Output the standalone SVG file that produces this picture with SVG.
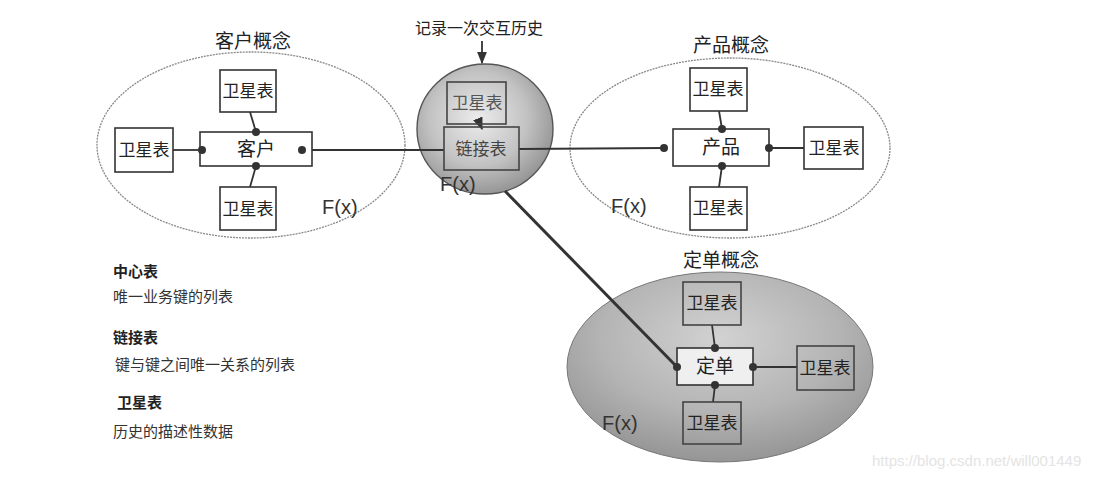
<svg xmlns="http://www.w3.org/2000/svg" width="1103" height="478" viewBox="0 0 1103 478">
<style>
.t{font-family:"Liberation Serif","Noto Sans CJK SC",serif;fill:#222;text-anchor:middle}
.box{font-size:17px}
.title{font-size:19px}
.fx{font-family:"Liberation Sans","DejaVu Sans",sans-serif;font-size:20px;fill:#333}
.leg{font-family:"Noto Sans CJK SC",sans-serif;font-size:15px;fill:#333}
.legh{font-family:"Noto Sans CJK SC",sans-serif;font-size:15px;font-weight:bold;fill:#222}
.rect{fill:#fff;stroke:#333;stroke-width:1.6}
.rectg{fill:none;stroke:#444;stroke-width:1.6}
.ell{fill:#fff;stroke:#888;stroke-width:1.3;stroke-dasharray:2 1}
.ln{stroke:#333;stroke-width:1.8;fill:none}
.dot{fill:#333}
</style>
<defs>
<radialGradient id="gMid" cx="0.45" cy="0.42" r="0.6">
<stop offset="0" stop-color="#ececec"/>
<stop offset="0.6" stop-color="#c2c2c2"/>
<stop offset="1" stop-color="#939393"/>
</radialGradient>
<radialGradient id="gOrd" cx="0.5" cy="0.35" r="0.65">
<stop offset="0" stop-color="#d2d2d2"/>
<stop offset="0.6" stop-color="#b4b4b4"/>
<stop offset="1" stop-color="#959595"/>
</radialGradient>
<marker id="arr" viewBox="0 0 10 10" refX="9" refY="5" markerWidth="7" markerHeight="7" orient="auto">
<path d="M0,1 L10,5 L0,9 z" fill="#333"/>
</marker>
</defs>
<rect width="1103" height="478" fill="#fff"/>

<g id="customer-concept">
<ellipse class="ell" cx="251" cy="145" rx="154" ry="93"/>
<text class="t title" x="253" y="48">客户概念</text>
<text class="fx" x="322" y="214">F(x)</text>
</g>
<g id="product-concept">
<ellipse class="ell" cx="730" cy="148" rx="160" ry="90"/>
<text class="t title" x="731" y="52">产品概念</text>
<text class="fx" x="611" y="213">F(x)</text>
</g>
<g id="order-concept">
<ellipse cx="720" cy="367" rx="153" ry="95" fill="url(#gOrd)" stroke="#777" stroke-width="1"/>
<text class="t title" x="721" y="267">定单概念</text>
<text class="fx" x="602" y="430">F(x)</text>
</g>
<g id="link-concept">
<ellipse cx="485" cy="129" rx="68" ry="65" fill="url(#gMid)" stroke="#555" stroke-width="1.4"/>
<text class="t" style="font-size:16px" x="479" y="34">记录一次交互历史</text>
<text class="fx" x="440" y="191">F(x)</text>
</g>

<g id="connectors">
<line class="ln" x1="482" y1="41" x2="482" y2="63" marker-end="url(#arr)"/>
<line class="ln" x1="302" y1="150" x2="444" y2="150"/>
<line class="ln" x1="519" y1="149" x2="664" y2="148"/>
<line x1="505" y1="191" x2="677" y2="367" stroke="#333" stroke-width="3"/>
<line class="ln" x1="480" y1="124" x2="482" y2="129" marker-end="url(#arr)"/>
<line class="ln" x1="250" y1="112" x2="256" y2="132"/>
<line class="ln" x1="256" y1="166" x2="250" y2="187"/>
<line class="ln" x1="173" y1="150" x2="202" y2="150"/>
<line class="ln" x1="719" y1="111" x2="722" y2="129"/>
<line class="ln" x1="722" y1="166" x2="719" y2="187"/>
<line class="ln" x1="769" y1="148" x2="804" y2="148"/>
<line class="ln" x1="712" y1="325" x2="715" y2="348"/>
<line class="ln" x1="753" y1="367" x2="797" y2="367"/>
<line class="ln" x1="715" y1="385" x2="713" y2="402"/>
</g>

<g id="customer">
<rect class="rect" x="200" y="132" width="112" height="34"/>
<text class="t" style="font-size:19px" x="256" y="156">客户</text>
</g>
<g id="cust-sat-top"><rect class="rect" x="220" y="70" width="56" height="42"/><text class="t box" x="248" y="97">卫星表</text></g>
<g id="cust-sat-left"><rect class="rect" x="115" y="128" width="58" height="44"/><text class="t box" x="144" y="156">卫星表</text></g>
<g id="cust-sat-bottom"><rect class="rect" x="220" y="187" width="56" height="43"/><text class="t box" x="248" y="215">卫星表</text></g>

<g id="link-sat"><rect class="rectg" x="447" y="82" width="59" height="42"/><text class="t box" style="fill:#555" x="477" y="109">卫星表</text></g>
<g id="link-table"><rect class="rectg" x="444" y="127" width="75" height="43"/><text class="t box" style="fill:#444" x="481" y="155">链接表</text></g>

<g id="product">
<rect class="rect" x="673" y="129" width="96" height="37"/>
<text class="t" style="font-size:19px" x="721" y="154">产品</text>
</g>
<g id="prod-sat-top"><rect class="rect" x="690" y="68" width="57" height="43"/><text class="t box" x="718" y="95">卫星表</text></g>
<g id="prod-sat-right"><rect class="rect" x="804" y="127" width="59" height="42"/><text class="t box" x="834" y="154">卫星表</text></g>
<g id="prod-sat-bottom"><rect class="rect" x="690" y="187" width="57" height="43"/><text class="t box" x="718" y="214">卫星表</text></g>

<g id="order">
<rect x="677" y="348" width="76" height="37" fill="#efefef" stroke="#333" stroke-width="1.6"/>
<text class="t" style="font-size:19px" x="715" y="373">定单</text>
</g>
<g id="ord-sat-top"><rect class="rectg" x="683" y="282" width="58" height="43"/><text class="t box" x="712" y="309">卫星表</text></g>
<g id="ord-sat-right"><rect class="rectg" x="797" y="346" width="57" height="44"/><text class="t box" x="825" y="374">卫星表</text></g>
<g id="ord-sat-bottom"><rect class="rectg" x="683" y="402" width="58" height="42"/><text class="t box" x="712" y="429">卫星表</text></g>

<g id="dots">
<circle class="dot" cx="256" cy="132" r="4"/>
<circle class="dot" cx="256" cy="166" r="4"/>
<circle class="dot" cx="202" cy="150" r="4"/>
<circle class="dot" cx="302" cy="150" r="4"/>
<circle class="dot" cx="664" cy="148" r="4"/>
<circle class="dot" cx="722" cy="129" r="4"/>
<circle class="dot" cx="769" cy="148" r="4"/>
<circle class="dot" cx="722" cy="166" r="4"/>
<circle class="dot" cx="677" cy="367" r="4"/>
<circle class="dot" cx="715" cy="348" r="4"/>
<circle class="dot" cx="753" cy="367" r="4"/>
<circle class="dot" cx="715" cy="385" r="4"/>
</g>

<g id="legend">
<text class="legh" x="113" y="277">中心表</text>
<text class="leg" x="113" y="302">唯一业务键的列表</text>
<text class="legh" x="113" y="343">链接表</text>
<text class="leg" x="115" y="370">键与键之间唯一关系的列表</text>
<text class="legh" x="117" y="408">卫星表</text>
<text class="leg" x="113" y="437">历史的描述性数据</text>
</g>
<text x="872" y="466" style="font-family:'Liberation Sans',sans-serif;font-size:15px;fill:#e4e4e4">https://blog.csdn.net/will001449</text>
</svg>
